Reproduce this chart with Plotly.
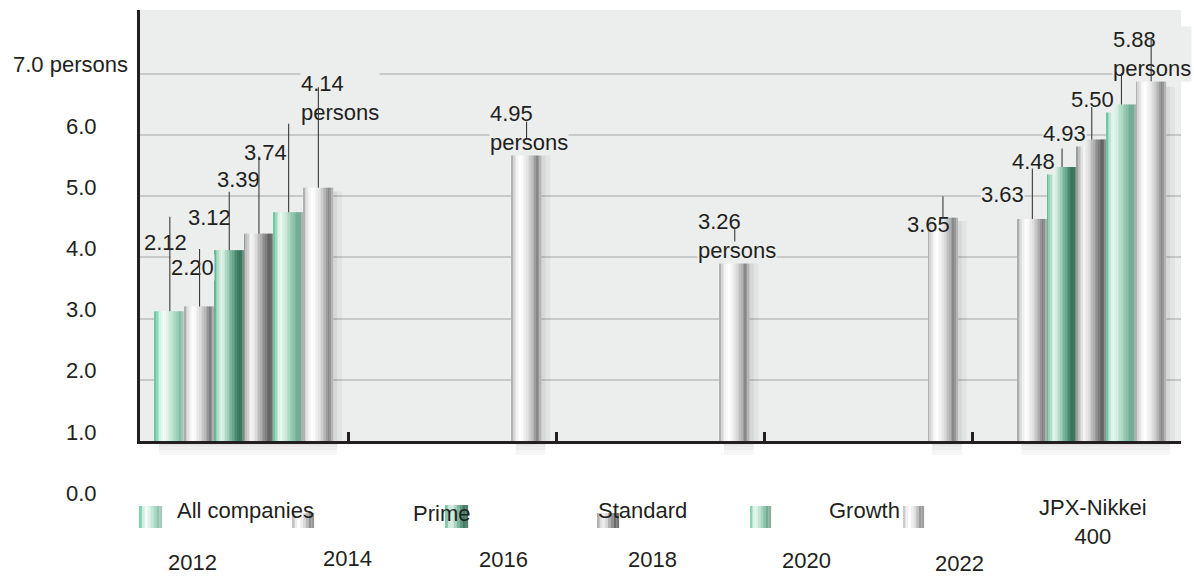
import plotly.graph_objects as go

# ---------------- data ----------------
categories = ["All companies", "Prime", "Standard", "Growth", "JPX-Nikkei<br>400"]
years = ["2012", "2014", "2016", "2018", "2020", "2022"]
values_2012 = [2.12, None, None, None, None]
values_2014 = [2.20, None, None, None, 3.63]
values_2016 = [3.12, None, None, None, 4.48]
values_2018 = [3.39, None, None, None, 4.93]
values_2020 = [3.74, None, None, None, 5.50]
values_2022 = [4.14, 4.95, 3.26, 3.65, 5.88]
y_tick_values = [0, 1, 2, 3, 4, 5, 6, 7]
y_tick_labels = ["0.0", "1.0", "2.0", "3.0", "4.0", "5.0", "6.0", "7.0 persons"]
unit_word = "persons"

series = [values_2012, values_2014, values_2016, values_2018, values_2020, values_2022]

# ---------------- style / layout ----------------
W, H = 1194, 576
ML, MR, MT, MB = 140, 13, 10, 135
PW = W - ML - MR
PH = H - MT - MB
Y_MAX = 7.046
GROUP_W = 0.856
SLOT = GROUP_W / len(years)
FONT = "Liberation Sans, Arial, Helvetica, sans-serif"
TXT = "#231f20"
FS = 22
PLOT_BG = "#eceeee"
GRID = "#c8caca"
N_STRIPS = 18

gradients = [
    # 2012 light green
    [(0, "#5cc29b"), (0.07, "#86d6b4"), (0.2, "#d8f2e7"), (0.32, "#f8fdfb"), (0.5, "#d2ede1"),
     (0.7, "#a6d8c2"), (0.86, "#82c2a6"), (0.95, "#b4c8c0"), (1, "#cfd5d2")],
    # 2014 gray
    [(0, "#9a9a9a"), (0.07, "#cacaca"), (0.2, "#f2f2f2"), (0.32, "#ffffff"), (0.55, "#dcdcdc"),
     (0.75, "#ababab"), (0.87, "#7c7c7c"), (0.95, "#9c9c9c"), (1, "#c4c4c4")],
    # 2016 dark green
    [(0, "#4da985"), (0.08, "#92d1b5"), (0.24, "#e6f5ee"), (0.36, "#c6e6d7"), (0.6, "#72b097"),
     (0.8, "#3f7d64"), (0.9, "#356d57"), (1, "#7aa393")],
    # 2018 dark gray
    [(0, "#8a8a8a"), (0.08, "#bdbdbd"), (0.25, "#f4f4f4"), (0.4, "#e0e0e0"), (0.65, "#9a9a9a"),
     (0.85, "#626262"), (0.93, "#6e6e6e"), (1, "#a8a8a8")],
    # 2020 green
    [(0, "#5bbd97"), (0.08, "#9ad9bd"), (0.22, "#eef9f4"), (0.35, "#d6efe4"), (0.6, "#9ccfb8"),
     (0.82, "#6fae93"), (0.92, "#7fa897"), (1, "#b0bfb8")],
    # 2022 light gray
    [(0, "#a0a0a0"), (0.07, "#d0d0d0"), (0.2, "#f5f5f5"), (0.32, "#ffffff"), (0.55, "#e2e2e2"),
     (0.75, "#b2b2b2"), (0.87, "#858585"), (0.95, "#a4a4a4"), (1, "#cacaca")],
]

# value-label placement (pixel offsets from bar top centre): dx, up, leader length
label_style = {
    (0, 0): (-27, 69, 96),
    (1, 0): (-30, 39, 59),
    (2, 0): (-42, 33, 60),
    (3, 0): (-43, 54, 79),
    (4, 0): (-46, 60, 90),
    (5, 0): (-18, 90, 102),
    (5, 1): (-38, 10, 18),
    (5, 2): (-38, 6, 15),
    (5, 3): (-37, -7, 23),
    (1, 4): (-52, 24, 52),
    (2, 4): (-51, 5, 20),
    (3, 4): (-50, 6, 34),
    (4, 4): (-51, 5, 33),
    (5, 4): (-39, 27, 44),
}
with_unit = {(5, 0), (5, 1), (5, 2), (5, 4)}
no_bg = {(5, 3)}

# legend-like label positions (pixels)
cat_label_pos = [(175, 510, "left"), (411, 513, "left"), (596, 510, "left"),
                 (827, 510, "left"), (1093, 522, "center")]
year_label_pos = [(192, 562), (347, 558), (503, 559), (652, 559), (806, 560), (959, 563)]
swatch_pos = [(139, 162, 506, 528), (292, 314, 513, 528), (445, 468, 505, 528),
              (597, 619, 513, 528), (750, 771, 506, 528), (903, 924, 506, 528)]


def hex2rgb(h):
    return tuple(int(h[i:i + 2], 16) for i in (1, 3, 5))


def sample(stops, t):
    for (t0, c0), (t1, c1) in zip(stops, stops[1:]):
        if t <= t1:
            f = (t - t0) / (t1 - t0) if t1 > t0 else 0
            a, b = hex2rgb(c0), hex2rgb(c1)
            return "rgb(%d,%d,%d)" % tuple(round(a[i] + (b[i] - a[i]) * f) for i in range(3))
    return stops[-1][1]


def xpx(xd):
    return ML + (xd + 0.5) * PW / len(categories)


def px2paper_x(px):
    return (px - ML) / PW


def py2paper_y(py):
    return (MT + PH - py) / PH


xs = list(range(len(categories)))
fig = go.Figure()

# gradient bars built from vertical strips
for s, vals in enumerate(series):
    for k in range(N_STRIPS):
        col = sample(gradients[s], (k + 0.5) / N_STRIPS)
        fig.add_trace(go.Bar(
            x=xs, y=vals,
            offset=-GROUP_W / 2 + s * SLOT + k * SLOT / N_STRIPS,
            width=SLOT / N_STRIPS * 1.04,
            marker=dict(color=col, line=dict(width=0)),
            hoverinfo="skip", showlegend=False,
        ))

shapes = []
annotations = []

# shadows
unit_px = PW / len(categories)
for s, vals in enumerate(series):
    for c, v in enumerate(vals):
        if v is None:
            continue
        left = c - GROUP_W / 2 + s * SLOT
        right = left + SLOT
        for (a, b, alpha) in [(0, 4, 0.09), (4, 9, 0.04)]:
            shapes.append(dict(type="rect", xref="x", yref="y", layer="between",
                               x0=right + a / unit_px, x1=right + b / unit_px, y0=0, y1=v * 0.985,
                               fillcolor="rgba(0,0,0,%.2f)" % alpha, line=dict(width=0)))
        for (y0, y1, alpha) in [(442, 446, 0.10), (446, 450, 0.065), (450, 455, 0.035)]:
            shapes.append(dict(type="rect", xref="paper", yref="paper", layer="below",
                               x0=px2paper_x(xpx(left) + 4), x1=px2paper_x(xpx(right) + 4),
                               y0=py2paper_y(y1), y1=py2paper_y(y0),
                               fillcolor="rgba(0,0,0,%.3f)" % alpha, line=dict(width=0)))

# value labels
leaders = []
for s, vals in enumerate(series):
    for c, v in enumerate(vals):
        if v is None:
            continue
        dx, up, length = label_style[(s, c)]
        xc = c - GROUP_W / 2 + (s + 0.5) * SLOT
        txt = f"{v:.2f}"
        if (s, c) in with_unit:
            txt += "<br>" + unit_word
        ann = dict(x=xc, y=v, xref="x", yref="y", text=txt, showarrow=False,
                   xanchor="left", yanchor="middle", xshift=dx, yshift=up, align="left",
                   font=dict(family=FONT, size=FS, color=TXT), borderpad=0)
        if (s, c) not in no_bg:
            ann["bgcolor"] = PLOT_BG
        annotations.append(ann)
        leaders.append(dict(x=xc, y=v, xref="x", yref="y", text="", showarrow=True,
                            ax=0, ay=-length, arrowhead=0, arrowwidth=1.1,
                            arrowcolor="#3a3a3a", standoff=0, startstandoff=0))
annotations += leaders

# y tick labels (offset as in the reference)
for val, lab in zip(y_tick_values, y_tick_labels):
    xcen = 70.5 if "persons" in lab else 81
    annotations.append(dict(x=px2paper_x(xcen), y=(val - 1 + 0.147) / Y_MAX, xref="paper",
                            yref="paper", text=lab, showarrow=False, xanchor="center",
                            yanchor="middle", font=dict(family=FONT, size=FS, color=TXT)))

# swatches
for s, (x0, x1, y0, y1) in enumerate(swatch_pos):
    n = 8
    for k in range(n):
        shapes.append(dict(type="rect", xref="paper", yref="paper", layer="above",
                           x0=px2paper_x(x0 + (x1 - x0) * k / n),
                           x1=px2paper_x(x0 + (x1 - x0) * (k + 1.05) / n),
                           y0=py2paper_y(y1), y1=py2paper_y(y0),
                           fillcolor=sample(gradients[s], (k + 0.5) / n), line=dict(width=0)))

# category labels
for name, (px, py, anchor) in zip(categories, cat_label_pos):
    annotations.append(dict(x=px2paper_x(px), y=py2paper_y(py), xref="paper", yref="paper",
                            text=name, showarrow=False, xanchor=anchor, yanchor="middle",
                            align="center", font=dict(family=FONT, size=FS, color=TXT)))
# year labels
for name, (px, py) in zip(years, year_label_pos):
    annotations.append(dict(x=px2paper_x(px), y=py2paper_y(py), xref="paper", yref="paper",
                            text=name, showarrow=False, xanchor="center", yanchor="middle",
                            font=dict(family=FONT, size=FS, color=TXT)))

fig.update_layout(
    width=W, height=H,
    margin=dict(l=ML, r=MR, t=MT, b=MB, pad=0),
    paper_bgcolor="white", plot_bgcolor=PLOT_BG,
    barmode="overlay", showlegend=False,
    shapes=shapes, annotations=annotations,
    font=dict(family=FONT, size=FS, color=TXT),
    xaxis=dict(range=[-0.5, len(categories) - 0.5], tickvals=[i + 0.5 for i in range(len(categories) - 1)],
               ticks="inside", ticklen=9, tickwidth=2.5, tickcolor=TXT, showticklabels=False,
               showgrid=False, zeroline=False, showline=True, linecolor=TXT, linewidth=3),
    yaxis=dict(range=[0, Y_MAX], tickvals=y_tick_values[:-1], showticklabels=False, ticks="",
               showgrid=True, gridcolor=GRID, gridwidth=2, zeroline=False,
               showline=True, linecolor=TXT, linewidth=3),
)

fig.write_html("out.html")
